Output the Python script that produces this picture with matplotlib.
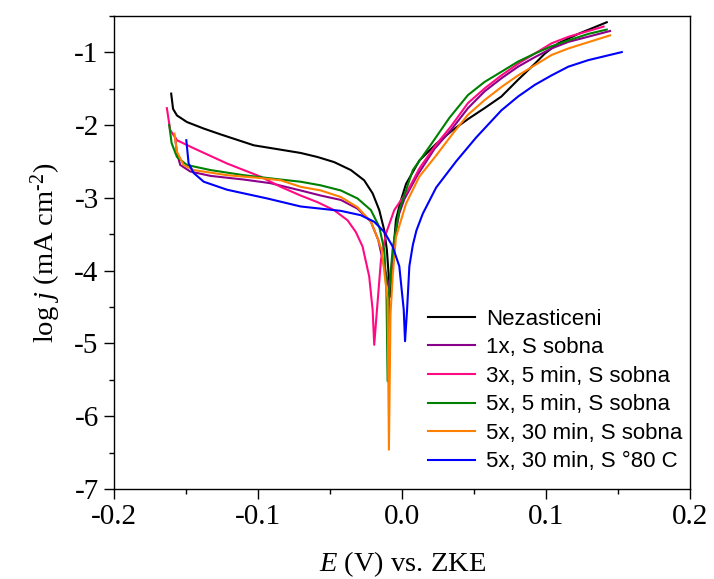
import numpy as np
import matplotlib
matplotlib.use("Agg")
import matplotlib.pyplot as plt
from matplotlib.ticker import MultipleLocator

# Data (E in V vs. ZKE, log j in mA cm^-2)
labels = ["Nezasticeni", "1x, S sobna", "3x, 5 min, S sobna",
          "5x, 5 min, S sobna", "5x, 30 min, S sobna", "5x, 30 min, S \u00b080 C"]
colors = ["#000000", "#8B008B", "#FF0A82", "#008000", "#FF8000", "#0000FF"]

E_nez = [-0.1603, -0.159, -0.1563, -0.1494, -0.1377, -0.126, -0.1029, -0.0843, -0.0704,
         -0.0588, -0.0472, -0.0355, -0.0263, -0.0204, -0.0158, -0.0123, -0.0105, -0.0082,
         -0.0065, -0.0042, -0.0010, 0.0028, 0.012, 0.0237, 0.0353, 0.0458, 0.0573, 0.069,
         0.0806, 0.0922, 0.0992, 0.1085, 0.1224, 0.1422]
j_nez = [-1.57, -1.78, -1.87, -1.96, -2.05, -2.13, -2.28, -2.34, -2.385,
         -2.44, -2.51, -2.62, -2.76, -2.94, -3.17, -3.45, -3.72, -4.36,
         -3.85, -3.30, -3.05, -2.81, -2.49, -2.26, -2.07, -1.92, -1.77, -1.61,
         -1.38, -1.16, -1.02, -0.88, -0.75, -0.59]

E_1x = [-0.1575, -0.1563, -0.154, -0.147, -0.133, -0.110, -0.0913, -0.0704, -0.0564,
        -0.0425, -0.0309, -0.0216, -0.0165, -0.0135, -0.0110, -0.0090, -0.0072, -0.0050,
        -0.0020, 0.0016, 0.011, 0.0225, 0.034, 0.0458, 0.0573, 0.069, 0.0806, 0.0922,
        0.1038, 0.1155, 0.1445]
j_1x = [-2.18, -2.39, -2.55, -2.64, -2.70, -2.75, -2.80, -2.90, -2.97,
        -3.03, -3.15, -3.33, -3.58, -3.85, -4.05, -4.25, -3.95, -3.55,
        -3.22, -3.02, -2.68, -2.33, -2.07, -1.77, -1.54, -1.36, -1.20, -1.07,
        -0.95, -0.86, -0.71]

E_3x = [-0.1633, -0.161, -0.1563, -0.1447, -0.1215, -0.0983, -0.0843, -0.0704, -0.0588,
        -0.0472, -0.0378, -0.0321, -0.0274, -0.0228, -0.0204, -0.0193, -0.0174, -0.0146,
        -0.0111, -0.0054, 0.004, 0.012, 0.0225, 0.034, 0.0458, 0.0573, 0.069, 0.0806,
        0.0922, 0.1038, 0.1155, 0.140]
j_3x = [-1.77, -2.07, -2.21, -2.32, -2.53, -2.71, -2.85, -2.97, -3.06,
        -3.17, -3.31, -3.47, -3.67, -4.08, -4.54, -5.02, -4.54, -3.85,
        -3.49, -3.17, -2.90, -2.60, -2.30, -2.02, -1.70, -1.50, -1.32, -1.16,
        -1.02, -0.88, -0.79, -0.65]

E_5x5 = [-0.1617, -0.160, -0.1563, -0.1494, -0.133, -0.110, -0.0843, -0.0704, -0.0564,
         -0.0425, -0.0309, -0.0216, -0.0158, -0.0123, -0.0108, -0.0100, -0.0090, -0.0065,
         -0.0019, 0.0075, 0.019, 0.033, 0.0458, 0.0573, 0.069, 0.0806, 0.0922, 0.1038,
         0.1155, 0.1294, 0.1422]
j_5x5 = [-2.00, -2.25, -2.44, -2.55, -2.62, -2.69, -2.75, -2.78, -2.83,
         -2.90, -3.01, -3.17, -3.40, -3.72, -4.30, -5.52, -4.30, -3.70,
         -3.17, -2.62, -2.30, -1.90, -1.59, -1.41, -1.27, -1.13, -1.02, -0.92,
         -0.84, -0.75, -0.69]

E_5x30 = [-0.158, -0.1563, -0.1517, -0.1447, -0.1215, -0.0983, -0.0843, -0.0704, -0.0564,
          -0.0425, -0.0309, -0.0216, -0.0165, -0.0141, -0.0100, -0.0091, -0.0080, -0.0065,
          -0.0042, 0.0028, 0.012, 0.0237, 0.036, 0.0458, 0.0573, 0.069, 0.0806, 0.0922,
          0.1038, 0.1155, 0.1445]
j_5x30 = [-2.12, -2.37, -2.55, -2.62, -2.69, -2.73, -2.76, -2.85, -2.90,
          -2.99, -3.13, -3.33, -3.58, -3.72, -4.40, -6.46, -4.60, -4.08,
          -3.54, -3.08, -2.71, -2.42, -2.10, -1.86, -1.66, -1.48, -1.32, -1.18,
          -1.04, -0.95, -0.77]

E_80C = [-0.1498, -0.1482, -0.1447, -0.1377, -0.1215, -0.0936, -0.0704, -0.0564, -0.0425,
         -0.0286, -0.0193, -0.0123, -0.0065, -0.0019, 0.0012, 0.0021, 0.0035, 0.0051,
         0.0075, 0.0100, 0.0144, 0.0237, 0.0376, 0.0516, 0.069, 0.0806, 0.0922, 0.1038,
         0.1155, 0.1294, 0.1526]
j_80C = [-2.21, -2.53, -2.66, -2.78, -2.89, -3.01, -3.12, -3.15, -3.18,
         -3.24, -3.33, -3.47, -3.67, -3.94, -4.54, -4.97, -4.54, -3.94,
         -3.65, -3.45, -3.22, -2.86, -2.50, -2.17, -1.80, -1.61, -1.45, -1.32,
         -1.20, -1.11, -1.00]

series = [(E_nez, j_nez), (E_1x, j_1x), (E_3x, j_3x),
          (E_5x5, j_5x5), (E_5x30, j_5x30), (E_80C, j_80C)]

plt.rcParams['font.family'] = 'Liberation Serif'
plt.rcParams['mathtext.fontset'] = 'custom'
plt.rcParams['mathtext.rm'] = 'Liberation Serif'
plt.rcParams['mathtext.it'] = 'Liberation Serif:italic'
plt.rcParams['axes.unicode_minus'] = False

fig = plt.figure(figsize=(7.14, 5.79), dpi=100)
ax = fig.add_axes([0.1597, 0.1554, 0.8067, 0.8175])

for (E, j), c, lab in zip(series, colors, labels):
    ax.plot(E, j, color=c, lw=1.5, label=lab)

ax.set_xlim(-0.2, 0.2)
ax.set_ylim(-7, -0.5)
ax.xaxis.set_major_locator(MultipleLocator(0.1))
ax.xaxis.set_minor_locator(MultipleLocator(0.05))
ax.yaxis.set_major_locator(MultipleLocator(1))
ax.yaxis.set_minor_locator(MultipleLocator(0.5))
ax.set_xticklabels([f"{v:.1f}" for v in ax.get_xticks()])
ax.tick_params(which='both', direction='out', top=False, right=False, width=1.0,
               labelsize=21, pad=4)
ax.tick_params(which='major', length=7)
ax.tick_params(which='minor', length=3.6)
for s in ax.spines.values():
    s.set_linewidth(1.0)

ax.set_xlabel(r'$E$ (V) vs. ZKE', fontsize=20.5, labelpad=14)
ax.set_ylabel(r'log $j$ (mA cm$^{\text{-}2}$)', fontsize=20.5, labelpad=8)

leg = ax.legend(loc='upper left', bbox_to_anchor=(0.545, 0.381), frameon=False,
                prop={'family': 'Liberation Sans', 'size': 16},
                handlelength=2.1, handletextpad=0.5, labelspacing=0.34,
                borderpad=0, borderaxespad=0)

fig.savefig("out.png", dpi=100)
